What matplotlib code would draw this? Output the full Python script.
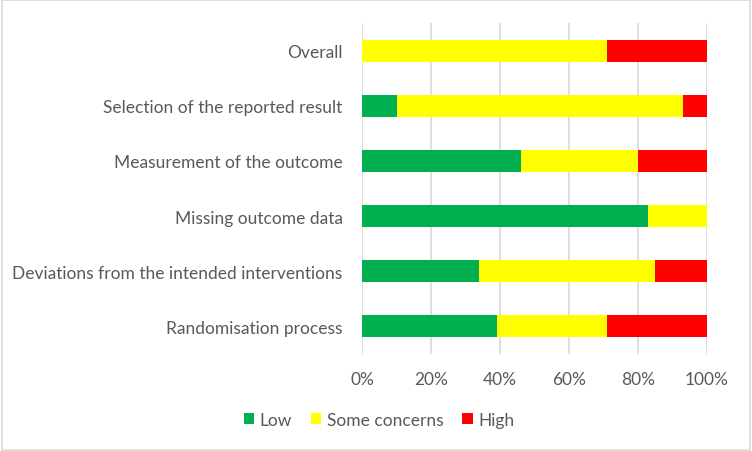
import matplotlib
matplotlib.use("Agg")
import matplotlib.pyplot as plt
from matplotlib.patches import Rectangle

# domains, bottom to top as drawn
domains = ["Randomisation process",
           "Deviations from the intended interventions",
           "Missing outcome data",
           "Measurement of the outcome",
           "Selection of the reported result",
           "Overall"]
low = [39, 34, 83, 46, 10, 0]
some = [32, 51, 17, 34, 83, 71]
high = [29, 15, 0, 20, 7, 29]
series = ["Low", "Some concerns", "High"]
colors = ["#00b050", "#ffff00", "#ff0000"]

plt.rcParams['font.family'] = ['Lato', 'DejaVu Sans']
txt = "#595959"

fig = plt.figure(figsize=(7.52, 4.52), dpi=100)
ax = fig.add_axes([362 / 752, 1 - 355 / 452, 345 / 752, 331 / 452])

y = range(len(domains))
left = [0] * len(domains)
for name, vals, c in zip(series, [low, some, high], colors):
    ax.barh(y, vals, left=left, height=0.4, color=c, label=name, zorder=3)
    left = [a + b for a, b in zip(left, vals)]

ax.set_xlim(0, 100)
ax.set_ylim(-0.5, len(domains) - 0.5)
ax.set_yticks(list(y))
ax.set_yticklabels(domains)
ax.set_xticks(range(0, 101, 20))
ax.set_xticklabels([f"{v}%" for v in range(0, 101, 20)])
ax.tick_params(axis='both', length=0, labelsize=12.5, labelcolor=txt)
ax.tick_params(axis='y', pad=14)
ax.tick_params(axis='x', pad=12)
ax.grid(axis='x', color="#d9d9d9", linewidth=1.2, zorder=0)
for s in ax.spines.values():
    s.set_visible(False)

leg = fig.legend(loc='center', bbox_to_anchor=(379 / 752, 1 - 421 / 452), ncol=3,
                 frameon=False, fontsize=12.5, handlelength=0.6, handleheight=0.6,
                 handletextpad=0.3, columnspacing=1.1)
for t in leg.get_texts():
    t.set_color(txt)

fig.patches.append(Rectangle((0.002, 0.002), 0.996, 0.996, transform=fig.transFigure,
                             fill=False, edgecolor="#d9d9d9", linewidth=1.2))

fig.savefig("out.png", dpi=100)
